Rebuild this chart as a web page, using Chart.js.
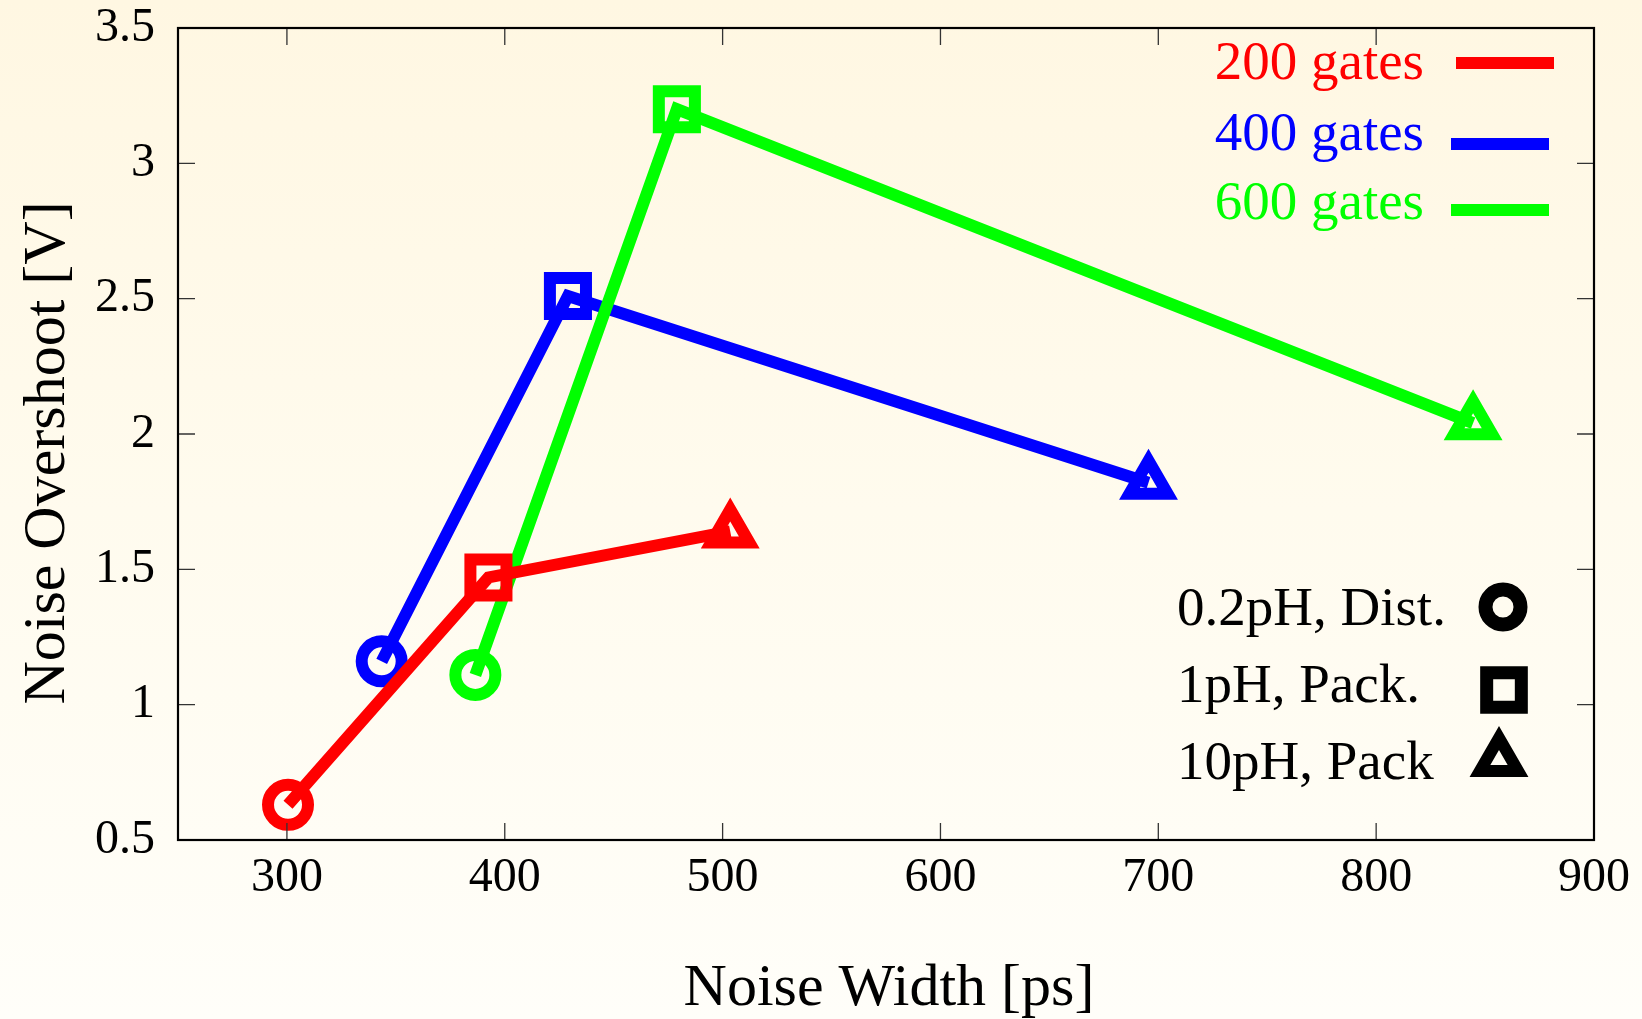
<!DOCTYPE html>
<html>
<head>
<meta charset="utf-8">
<script src="https://cdn.jsdelivr.net/npm/chart.js@4.4.1/dist/chart.umd.min.js"></script>
<style>
    html, body { margin: 0; padding: 0; }
    body {
        width: 1642px;
        height: 1019px;
        background: linear-gradient(to bottom, #fff7e2 0%, #fffbee 50%, #fffef9 100%);
        overflow: hidden;
    }
    #wrap { position: relative; width: 1642px; height: 1019px; }
</style>
</head>
<body>
<div id="wrap"><canvas id="overshootChart" width="1642" height="1019"></canvas></div>
<script>
// noise width [ps] / overshoot [V] per gate count, points: 0.2pH Dist., 1pH Pack., 10pH Pack
const width200 = [300.5, 392.5, 503.5];
const over200 = [0.63, 1.47, 1.64];
const width400 = [343.5, 429, 695.5];
const over400 = [1.16, 2.51, 1.82];
const width600 = [386.5, 479, 844.5];
const over600 = [1.11, 3.20, 2.04];

const seriesLabels = ['200 gates', '400 gates', '600 gates'];
const seriesColors = ['#ff0000', '#0000ff', '#00ff00'];
const markerLabels = ['0.2pH, Dist.', '1pH, Pack.', '10pH, Pack'];
const markerStyles = ['circle', 'rect', 'triangle'];
const markerRadius = [20, 25.5, 22];

const xTicks = [300, 400, 500, 600, 700, 800, 900];
const yTicks = [0.5, 1, 1.5, 2, 2.5, 3, 3.5];

const SERIF = '"Liberation Serif", "Times New Roman", serif';
const TICK_LEN = 17;

function toPoints(xs, ys) {
    return xs.map((x, i) => ({ x, y: ys[i] }));
}

function makeSet(idx, xs, ys, order) {
    return {
        label: seriesLabels[idx],
        data: toPoints(xs, ys),
        showLine: true,
        borderColor: seriesColors[idx],
        borderWidth: 12,
        borderJoinStyle: 'miter',
        backgroundColor: 'transparent',
        pointStyle: markerStyles,
        pointRadius: markerRadius,
        pointBorderWidth: 12,
        pointBorderColor: seriesColors[idx],
        pointBackgroundColor: 'transparent',
        tension: 0,
        order: order
    };
}

// inward mirrored ticks, frame, axis titles and the two keys
const decor = {
    id: 'decor',
    afterDatasetsDraw(chart) {
        const { ctx, chartArea: a, scales: { x, y } } = chart;
        ctx.save();

        ctx.strokeStyle = '#333';
        ctx.lineWidth = 1.3;
        ctx.beginPath();
        x.ticks.forEach(t => {
            const px = x.getPixelForValue(t.value);
            ctx.moveTo(px, a.bottom); ctx.lineTo(px, a.bottom - TICK_LEN);
            ctx.moveTo(px, a.top); ctx.lineTo(px, a.top + TICK_LEN);
        });
        y.ticks.forEach(t => {
            const py = y.getPixelForValue(t.value);
            ctx.moveTo(a.left, py); ctx.lineTo(a.left + TICK_LEN, py);
            ctx.moveTo(a.right, py); ctx.lineTo(a.right - TICK_LEN, py);
        });
        ctx.stroke();

        ctx.strokeStyle = '#000';
        ctx.lineWidth = 2.2;
        ctx.strokeRect(a.left, a.top, a.right - a.left, a.bottom - a.top);

        // axis titles
        ctx.fillStyle = '#000';
        ctx.font = '60px ' + SERIF;
        ctx.textAlign = 'center';
        ctx.textBaseline = 'alphabetic';
        ctx.fillText('Noise Width [ps]', 889, 1005);
        ctx.save();
        ctx.translate(64, 453);
        ctx.rotate(-Math.PI / 2);
        ctx.fillText('Noise Overshoot [V]', 0, 0);
        ctx.restore();

        // series key
        ctx.font = '55px ' + SERIF;
        ctx.textAlign = 'right';
        const keyBase = [79, 150, 219];
        const keyLineY = [63, 144, 210];
        const keyLineX = [[1456, 1554], [1451, 1549], [1451, 1549]];
        seriesLabels.forEach((lab, i) => {
            ctx.fillStyle = seriesColors[i];
            ctx.fillText(lab, 1424, keyBase[i]);
            ctx.strokeStyle = seriesColors[i];
            ctx.lineWidth = 12;
            ctx.beginPath();
            ctx.moveTo(keyLineX[i][0], keyLineY[i]);
            ctx.lineTo(keyLineX[i][1], keyLineY[i]);
            ctx.stroke();
        });

        // marker key
        ctx.textAlign = 'left';
        const mkBase = [625, 702, 779];
        const mkPos = [[1503, 607], [1504, 690], [1499, 760]];
        const mkRad = [17.5, 24.5, 22];
        const mkBorder = [14, 13, 12];
        markerLabels.forEach((lab, i) => {
            ctx.fillStyle = '#000';
            ctx.fillText(lab, 1177, mkBase[i]);
            ctx.strokeStyle = '#000';
            ctx.lineWidth = mkBorder[i];
            ctx.fillStyle = 'transparent';
            Chart.helpers.drawPoint(ctx, {
                pointStyle: markerStyles[i],
                radius: mkRad[i],
                rotation: 0,
                borderWidth: mkBorder[i]
            }, mkPos[i][0], mkPos[i][1]);
        });

        ctx.restore();
    }
};

const ctx = document.getElementById('overshootChart').getContext('2d');
const chart = new Chart(ctx, {
    type: 'scatter',
    data: {
        datasets: [
            makeSet(0, width200, over200, 0),
            makeSet(1, width400, over400, 2),
            makeSet(2, width600, over600, 1)
        ]
    },
    options: {
        responsive: false,
        animation: false,
        events: [],
        layout: { autoPadding: false, padding: { top: 28, right: 48, left: 0, bottom: 0 } },
        plugins: {
            legend: { display: false },
            tooltip: { enabled: false }
        },
        scales: {
            x: {
                type: 'linear',
                min: 250,
                max: 900,
                grid: { display: false, drawTicks: false },
                border: { display: false },
                afterBuildTicks: s => { s.ticks = xTicks.map(v => ({ value: v })); },
                afterFit: s => { s.height = 179; s.paddingLeft = 0; s.paddingRight = 0; },
                ticks: {
                    color: '#000',
                    padding: 14,
                    maxRotation: 0,
                    font: { family: SERIF, size: 48, lineHeight: 1 },
                    callback: v => String(v)
                }
            },
            y: {
                type: 'linear',
                min: 0.5,
                max: 3.5,
                grid: { display: false, drawTicks: false },
                border: { display: false },
                afterBuildTicks: s => { s.ticks = yTicks.map(v => ({ value: v })); },
                afterFit: s => { s.width = 178; s.paddingTop = 0; s.paddingBottom = 0; },
                ticks: {
                    color: '#000',
                    padding: 23,
                    font: { family: SERIF, size: 48, lineHeight: 1 },
                    callback: v => String(v)
                }
            }
        }
    },
    plugins: [decor]
});
</script>
</body>
</html>
